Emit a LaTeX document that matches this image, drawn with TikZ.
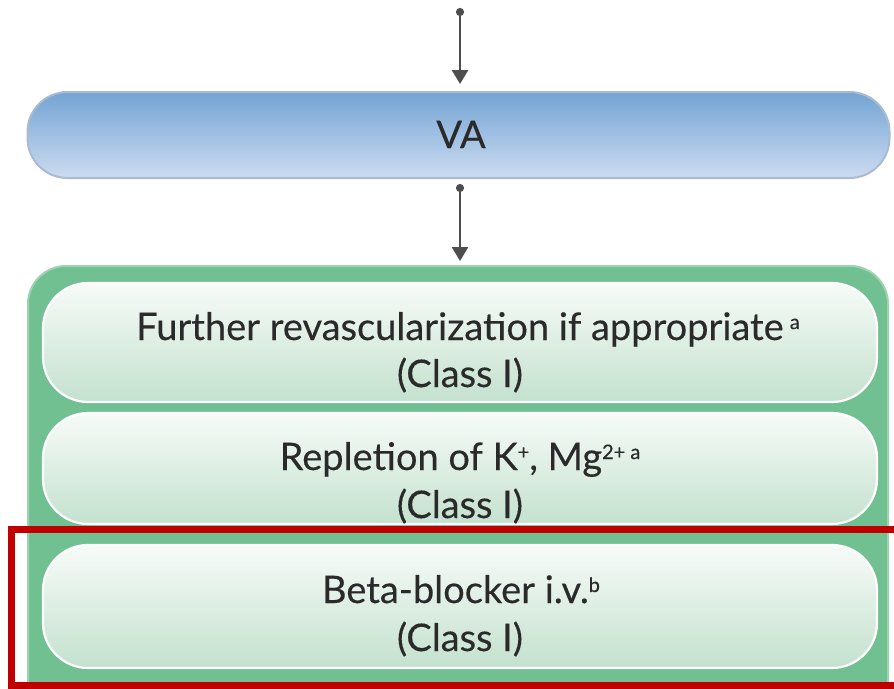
\documentclass[tikz,border=0pt]{standalone}
\usepackage{fontspec}
\setmainfont{Lato}[FakeBold=0.3,AutoFakeBold=0.3]
\usetikzlibrary{arrows.meta}

\definecolor{txt}{HTML}{2A2A2A}
\definecolor{arrowgray}{HTML}{4E4E4E}
\definecolor{bluetop}{HTML}{74A4D5}
\definecolor{bluebot}{HTML}{CCDBF0}
\definecolor{blueedge}{HTML}{A9BBD0}
\definecolor{greenframe}{HTML}{70C092}
\definecolor{greenedge}{HTML}{9ED3B2}
\definecolor{pilltop}{HTML}{F7FBF8}
\definecolor{pillbot}{HTML}{C4E1CE}
\definecolor{focusred}{HTML}{C00000}

% small raised footnote marks
\newcommand{\fnmark}[1]{\raisebox{11pt}{\fontsize{20}{20}\selectfont #1}}

\begin{document}
\begin{tikzpicture}[x=1pt,y=-1pt,
  flow/.style={draw=arrowgray, line width=2.6pt,
    {Circle[length=8pt,width=8pt]}-{Triangle[length=14pt,width=16pt]}},
  header/.style={draw=blueedge, line width=2pt, rounded corners=40pt,
    top color=bluetop, bottom color=bluebot, inner sep=0pt,
    minimum width=862pt, minimum height=86pt},
  frame/.style={draw=greenedge, line width=2pt, fill=greenframe,
    rounded corners=38pt, inner sep=0pt,
    minimum width=860pt, minimum height=464pt},
  pill/.style={draw=white, line width=2.2pt, rounded corners=45pt,
    top color=pilltop, bottom color=pillbot, inner sep=0pt,
    minimum width=834pt},
  lbl/.style={font=\fontsize{38}{44}\selectfont\bfseries, text=txt,
    inner sep=0pt, anchor=base},
  focus/.style={draw=focusred, line width=7pt, inner sep=0pt}
]
\useasboundingbox (0,0) rectangle (894,688);
\clip (0,0) rectangle (894,688);
\fill[white] (0,0) rectangle (894,688);

% header bar
\node[header] (va) at (458.5,135) {};
\node[lbl] (vatext) at (461,148) {VA};

% green frame with the three measures
\node[frame] (outer) at (458,498) {};
\node[pill, minimum height=119pt] (p1) at (460,342.5) {};
\node[pill, minimum height=111pt] (p2) at (460,468.5) {};
\node[pill, minimum height=123pt] (p3) at (460,606.5) {};

\node[lbl] (t1a) at (468,340) {Further revascularization if appropriate\,\fnmark{a}};
\node[lbl] (t1b) at (460,387) {(Class I)};
\node[lbl] (t2a) at (460,470) {Repletion of K\fnmark{+}, Mg\fnmark{2+ a}};
\node[lbl] (t2b) at (460,518) {(Class I)};
\node[lbl] (t3a) at (461,603) {Beta-blocker i.v.\fnmark{b}};
\node[lbl] (t3b) at (460,651) {(Class I)};

% connectors
\coordinate (src) at (460,8);
\draw[flow, shorten >=7pt] (src) -- (src |- va.north);
\draw[flow, shorten <=5pt, shorten >=4pt] (src |- va.south) -- (src |- outer.north);

% highlight box
\node[focus, minimum width=900pt, minimum height=156pt] (hl) at (461.5,607.5) {};
\end{tikzpicture}
\end{document}
